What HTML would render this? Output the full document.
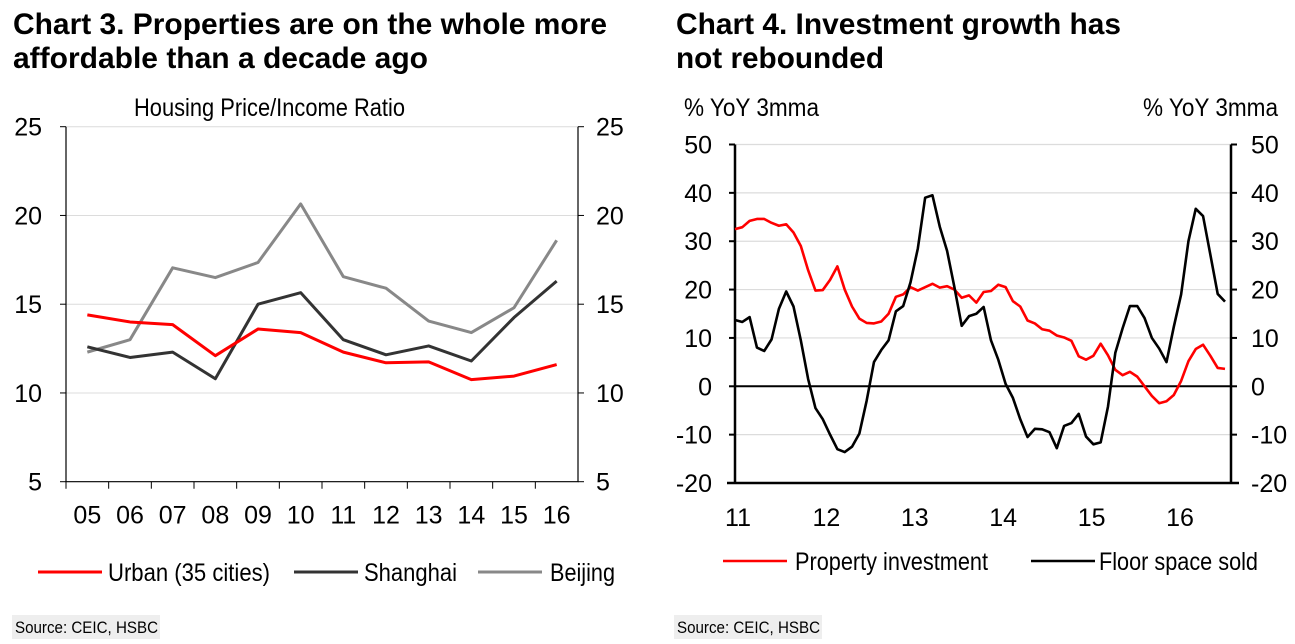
<!DOCTYPE html>
<html><head><meta charset="utf-8">
<style>
html,body{margin:0;padding:0;background:#fff;}
svg{display:block;}
.t{font-family:"Liberation Sans",Arial,sans-serif;font-weight:bold;font-size:30px;fill:#000;}
.n{font-family:"Liberation Sans",Arial,sans-serif;font-size:25px;fill:#000;}
.s{font-family:"Liberation Sans",Arial,sans-serif;font-size:17px;fill:#000;}
</style></head>
<body>
<svg id="root" width="1295" height="644" viewBox="0 0 1295 644" xmlns="http://www.w3.org/2000/svg">
<text class="t" x="13" y="34" textLength="594" lengthAdjust="spacingAndGlyphs">Chart 3. Properties are on the whole more</text>
<text class="t" x="13" y="68" textLength="415" lengthAdjust="spacingAndGlyphs">affordable than a decade ago</text>
<text class="t" x="676" y="34" textLength="445" lengthAdjust="spacingAndGlyphs">Chart 4. Investment growth has</text>
<text class="t" x="676" y="68" textLength="208" lengthAdjust="spacingAndGlyphs">not rebounded</text>
<text class="n" x="134" y="116" textLength="271" lengthAdjust="spacingAndGlyphs">Housing Price/Income Ratio</text>
<text class="n" x="684" y="116" textLength="135" lengthAdjust="spacingAndGlyphs">% YoY 3mma</text>
<text class="n" x="1143" y="116" textLength="135" lengthAdjust="spacingAndGlyphs">% YoY 3mma</text>
<g id="c3"></g>
<g id="c4"></g>
<rect x="12" y="615" width="148" height="24" fill="#eeeeee"/>
<text class="s" x="15" y="633" textLength="143" lengthAdjust="spacingAndGlyphs">Source: CEIC, HSBC</text>
<rect x="674" y="615" width="148" height="24" fill="#eeeeee"/>
<text class="s" x="677" y="633" textLength="143" lengthAdjust="spacingAndGlyphs">Source: CEIC, HSBC</text>
</svg>
<script>
// ---------- Chart 3 data ----------
const c3Categories = ["05","06","07","08","09","10","11","12","13","14","15","16"];
const c3Urban = [14.4,14.0,13.85,12.1,13.6,13.4,12.3,11.7,11.75,10.75,10.95,11.6];
const c3Shanghai = [12.6,12.0,12.3,10.8,15.0,15.65,13.0,12.15,12.65,11.8,14.25,16.3];
const c3Beijing = [12.3,13.0,17.05,16.5,17.35,20.65,16.55,15.9,14.05,13.4,14.8,18.6];
const c3Ticks = [5,10,15,20,25];
// ---------- Chart 4 data ----------
const c4Years = ["11","12","13","14","15","16"];
const c4Investment = [32.5,32.9,34.2,34.6,34.6,33.8,33.2,33.5,31.8,29,24,19.8,19.9,22,24.8,20,16.5,14,13.1,13,13.4,15,18.5,19,20.5,19.8,20.5,21.2,20.4,20.7,20,18.3,18.8,17.3,19.5,19.7,21,20.5,17.6,16.5,13.6,13,11.8,11.5,10.5,10.1,9.4,6.2,5.5,6.3,8.8,6.4,3.4,2.3,3.0,2.0,0,-2,-3.5,-3.1,-1.8,1.1,5.2,7.7,8.6,6.3,3.8,3.6];
const c4Floor = [13.7,13.3,14.3,8,7.3,9.7,16,19.6,16.5,9.5,1.5,-4.5,-6.8,-10,-13,-13.6,-12.5,-9.8,-3,5,7.5,9.5,15.5,16.6,21.5,28.5,39,39.5,33,28,20.5,12.5,14.5,15,16.4,9.5,5.5,0.5,-2.4,-6.8,-10.5,-8.8,-8.9,-9.5,-12.8,-8.2,-7.6,-5.7,-10.4,-12,-11.6,-4.2,6.9,12,16.6,16.6,14.1,10,7.8,5,12.3,19,30,36.7,35.2,27.2,19.1,17.5];
const c4Ticks = [-20,-10,0,10,20,30,40,50];

const NS="http://www.w3.org/2000/svg";
function mk(parent,tag,attrs){const e=document.createElementNS(NS,tag);for(const k in attrs)e.setAttribute(k,attrs[k]);parent.appendChild(e);return e;}

// Chart 3
(function(){
  const g=document.getElementById('c3');
  const L=66,R=578,T=126.7,B=481.7;
  const band=(R-L)/c3Categories.length;
  const x=i=>L+band*(i+0.5);
  const y=v=>B-(v-5)/20*(B-T);
  c3Ticks.forEach(v=>{
    if(v>5){const gl=mk(g,'line',{x1:L,x2:R,y1:y(v),y2:y(v),stroke:'#dcdcdc','stroke-width':1});
    
    }
    const tl=mk(g,'line',{x1:L-6,x2:L,y1:y(v),y2:y(v),stroke:'#000','stroke-width':1});
    
    
    const tr=mk(g,'line',{x1:R,x2:R+6,y1:y(v),y2:y(v),stroke:'#000','stroke-width':1});
    
    
    const a=mk(g,'text',{x:L-24,y:y(v)+9,'text-anchor':'end',class:'n'});a.textContent=v;
    
    
    const b=mk(g,'text',{x:R+18,y:y(v)+9,class:'n'});b.textContent=v;
    
    
  });
  const ax=mk(g,'path',{d:`M${L},${T}V${B}H${R}V${T}`,fill:'none',stroke:'#000','stroke-width':1.2});
  
  
  c3Categories.forEach((c,i)=>{
    const tk=mk(g,'line',{x1:L+band*i,x2:L+band*i,y1:B,y2:B+7,stroke:'#000','stroke-width':1});
    
    
    const t=mk(g,'text',{x:x(i),y:B+42,'text-anchor':'middle',class:'n'});t.textContent=c;
    
    
  });
  const series=[[c3Beijing,'#888888','beijing'],[c3Shanghai,'#333333','shanghai'],[c3Urban,'#ff0000','urban']];
  series.forEach(([d,col,nm])=>{
    const p=mk(g,'polyline',{points:d.map((v,i)=>x(i)+','+y(v)).join(' '),fill:'none',stroke:col,'stroke-width':3,'stroke-linejoin':'round'});
    
    
  });
  const leg=[['Urban (35 cities)','#ff0000',38,108,162],['Shanghai','#333333',294,364,93],['Beijing','#888888',478,550,65]];
  leg.forEach(([lab,col,x1,tx,w])=>{
    const l=mk(g,'line',{x1:x1,x2:x1+64,y1:572,y2:572,stroke:col,'stroke-width':3});
    
    
    const t=mk(g,'text',{x:tx,y:581,class:'n',textLength:w,lengthAdjust:'spacingAndGlyphs'});t.textContent=lab;
    
    
  });
})();

// Chart 4
(function(){
  const g=document.getElementById('c4');
  const L=735,R=1231,T=144.5,B=483;
  const x0=735,x1=1225;
  const x=m=>x0+m*(x1-x0)/(c4Investment.length-1);
  const y=v=>B-(v+20)/70*(B-T);
  c4Ticks.forEach(v=>{
    if(v!==-20&&v!==0){const gl=mk(g,'line',{x1:L,x2:R,y1:y(v),y2:y(v),stroke:'#dcdcdc','stroke-width':1.2});
    
    }
    const tl=mk(g,'line',{x1:L-6,x2:L,y1:y(v),y2:y(v),stroke:'#000','stroke-width':2});
    
    
    const tr=mk(g,'line',{x1:R,x2:R+6,y1:y(v),y2:y(v),stroke:'#000','stroke-width':2});
    
    
    const a=mk(g,'text',{x:L-23,y:y(v)+9,'text-anchor':'end',class:'n'});a.textContent=v;
    
    
    const b=mk(g,'text',{x:R+20,y:y(v)+9,class:'n'});b.textContent=v;
    
    
  });
  const z=mk(g,'line',{x1:L,x2:R,y1:y(0),y2:y(0),stroke:'#000','stroke-width':2});
  
  
  const ax=mk(g,'path',{d:`M${L},${T}V${B}M${R},${T}V${B}M${L-8},${B}H${R+8}`,fill:'none',stroke:'#000','stroke-width':2.5});
  
  
  c4Years.forEach((c,i)=>{
    const t=mk(g,'text',{x:738+i*88.4,y:B+43,'text-anchor':'middle',class:'n'});t.textContent=c;
    
    
  });
  [[c4Investment,'#ff0000','property-investment'],[c4Floor,'#000000','floor-space-sold']].forEach(([d,col,nm])=>{
    const p=mk(g,'polyline',{points:d.map((v,i)=>x(i)+','+y(v)).join(' '),fill:'none',stroke:col,'stroke-width':2.6,'stroke-linejoin':'round'});
    
    
  });
  const leg=[['Property investment','#ff0000',723,795,193],['Floor space sold','#000000',1031,1099,159]];
  leg.forEach(([lab,col,lx,tx,w])=>{
    const l=mk(g,'line',{x1:lx,x2:lx+64,y1:561,y2:561,stroke:col,'stroke-width':2.5});
    
    
    const t=mk(g,'text',{x:tx,y:570,class:'n',textLength:w,lengthAdjust:'spacingAndGlyphs'});t.textContent=lab;
    
    
  });
})();
</script>
</body></html>
